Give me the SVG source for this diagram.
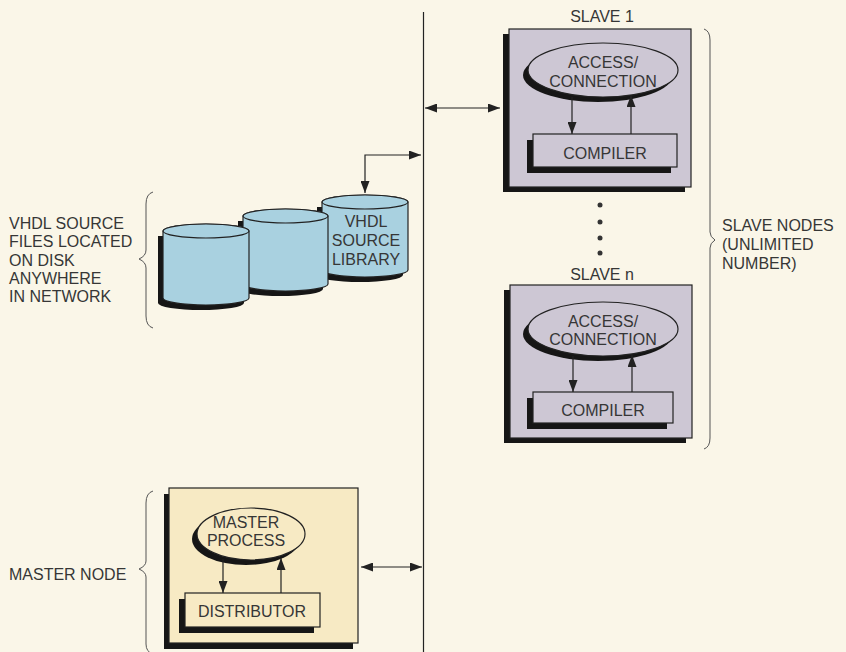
<svg xmlns="http://www.w3.org/2000/svg" width="846" height="652" viewBox="0 0 846 652">
  <defs>
    <marker id="ah" viewBox="0 0 12 9" refX="12" refY="4.5" markerWidth="12" markerHeight="9" markerUnits="userSpaceOnUse" orient="auto-start-reverse">
      <path d="M0,0 L12,4.5 L0,9 Z" fill="#222"/>
    </marker>
  </defs>
  <style>
    text { font-family: "Liberation Sans", Arial, sans-serif; font-size: 16px; fill: #363636; }
    .c { text-anchor: middle; }
    .sh { fill: #161616; }
    .slave { fill: #cdc7d4; stroke: #222; stroke-width: 1.2; }
    .master { fill: #f7eac4; stroke: #222; stroke-width: 1.2; }
    .cyl { fill: #a9d1e0; stroke: #222; stroke-width: 1.2; }
    .ln { fill: none; stroke: #222; stroke-width: 1.2; }
    .brace { fill: none; stroke: #555; stroke-width: 1; }
  </style>
  <rect x="0" y="0" width="846" height="652" fill="#faf6e8"/>

  <!-- network bus -->
  <g id="bus">
    <line class="ln" x1="423.5" y1="12" x2="423.5" y2="652"/>
  </g>

  <!-- Slave 1 -->
  <g id="slave1">
    <text class="c" x="602" y="22">SLAVE 1</text>
    <rect class="sh" x="503" y="34" width="182" height="158"/>
    <rect class="slave" x="509" y="29" width="182" height="158"/>
    <ellipse class="sh" cx="598" cy="75" rx="75" ry="27"/>
    <ellipse class="slave" cx="603" cy="70" rx="75" ry="27"/>
    <text class="c" x="603" y="68">ACCESS/</text>
    <text class="c" x="603" y="87">CONNECTION</text>
    <rect class="sh" x="527" y="140" width="144" height="33"/>
    <rect class="slave" x="533" y="134" width="144" height="33"/>
    <text class="c" x="605" y="159">COMPILER</text>
  </g>

  <!-- dots -->
  <g id="dots" fill="#333">
    <circle cx="600" cy="205" r="2.5"/>
    <circle cx="600" cy="222" r="2.5"/>
    <circle cx="600" cy="238" r="2.5"/>
    <circle cx="600" cy="253" r="2.5"/>
  </g>

  <!-- Slave n -->
  <g id="slaven">
    <text class="c" x="602" y="280">SLAVE n</text>
    <rect class="sh" x="504" y="290" width="182" height="153"/>
    <rect class="slave" x="510" y="285" width="182" height="153"/>
    <ellipse class="sh" cx="598" cy="334" rx="75" ry="27"/>
    <ellipse class="slave" cx="603" cy="329" rx="75" ry="27"/>
    <text class="c" x="603" y="327">ACCESS/</text>
    <text class="c" x="603" y="345">CONNECTION</text>
    <rect class="sh" x="527" y="398" width="140" height="31"/>
    <rect class="slave" x="533" y="392" width="140" height="31"/>
    <text class="c" x="603" y="416">COMPILER</text>
  </g>

  <!-- Cylinders -->
  <g id="library">
    <path class="sh" d="M317,207 V275 A43,7 0 0 0 403,275 V207 Z"/>
    <path class="cyl" d="M322,202 V270 A43,7 0 0 0 408,270 V202 A43,7 0 0 0 322,202 Z"/>
    <ellipse class="cyl" cx="365" cy="202" rx="43" ry="7"/>
    <text class="c" x="366" y="227">VHDL</text>
    <text class="c" x="366" y="246">SOURCE</text>
    <text class="c" x="366" y="265">LIBRARY</text>
  </g>
  <g id="disk2">
    <path class="sh" d="M238,221 V289 A42.5,7 0 0 0 323,289 V221 Z"/>
    <path class="cyl" d="M243,216 V284 A42.5,7 0 0 0 328,284 V216 A42.5,7 0 0 0 243,216 Z"/>
    <ellipse class="cyl" cx="285.5" cy="216" rx="42.5" ry="7"/>
  </g>
  <g id="disk1">
    <path class="sh" d="M158,236 V303 A43,7 0 0 0 244,303 V236 Z"/>
    <path class="cyl" d="M163,231 V298 A43,7 0 0 0 249,298 V231 A43,7 0 0 0 163,231 Z"/>
    <ellipse class="cyl" cx="206" cy="231" rx="43" ry="7"/>
  </g>

  <!-- Master -->
  <g id="master">
    <rect class="sh" x="164" y="494" width="189" height="155"/>
    <rect class="master" x="169" y="488" width="189" height="155"/>
    <ellipse class="sh" cx="246" cy="539" rx="54" ry="26"/>
    <ellipse class="master" cx="251" cy="534" rx="54" ry="26"/>
    <text class="c" x="246" y="528">MASTER</text>
    <text class="c" x="246" y="546">PROCESS</text>
    <rect class="sh" x="179" y="599" width="135" height="34"/>
    <rect class="master" x="185" y="593" width="135" height="34"/>
    <text class="c" x="252" y="617">DISTRIBUTOR</text>
  </g>

  <!-- Labels and braces -->
  <g id="label-files">
    <text x="9" y="229">VHDL SOURCE</text>
    <text x="9" y="247">FILES LOCATED</text>
    <text x="9" y="266">ON DISK</text>
    <text x="9" y="284">ANYWHERE</text>
    <text x="9" y="302">IN NETWORK</text>
    <path class="brace" d="M153,192 Q146,194 146,204 V250 Q146,256 139,259 Q146,262 146,268 V316 Q146,326 153,328"/>
  </g>
  <g id="label-slaves">
    <text x="722" y="231">SLAVE NODES</text>
    <text x="722" y="250">(UNLIMITED</text>
    <text x="722" y="269">NUMBER)</text>
    <path class="brace" d="M704,29 Q710,31 710,40 V232 Q710,237 715,240 Q710,243 710,248 V438 Q710,447 704,449"/>
  </g>
  <g id="label-master">
    <text x="9" y="580">MASTER NODE</text>
    <path class="brace" d="M153,491 Q146,493 146,503 V561 Q146,566 139,569 Q146,572 146,577 V644 Q146,652 153,654"/>
  </g>

  <!-- Connectors -->
  <g id="connectors">
    <line class="ln" x1="425" y1="108" x2="500" y2="108" marker-start="url(#ah)" marker-end="url(#ah)"/>
    <line class="ln" x1="361" y1="567" x2="422" y2="567" marker-start="url(#ah)" marker-end="url(#ah)"/>
    <polyline class="ln" points="365,193 365,155 421,155" marker-start="url(#ah)" marker-end="url(#ah)"/>
    <line class="ln" x1="572" y1="97" x2="572" y2="134" marker-end="url(#ah)"/>
    <line class="ln" x1="631" y1="134" x2="631" y2="95" marker-end="url(#ah)"/>
    <line class="ln" x1="573" y1="356" x2="573" y2="392" marker-end="url(#ah)"/>
    <line class="ln" x1="632" y1="392" x2="632" y2="355" marker-end="url(#ah)"/>
    <line class="ln" x1="223" y1="559" x2="223" y2="593" marker-end="url(#ah)"/>
    <line class="ln" x1="281" y1="593" x2="281" y2="558" marker-end="url(#ah)"/>
  </g>
</svg>
